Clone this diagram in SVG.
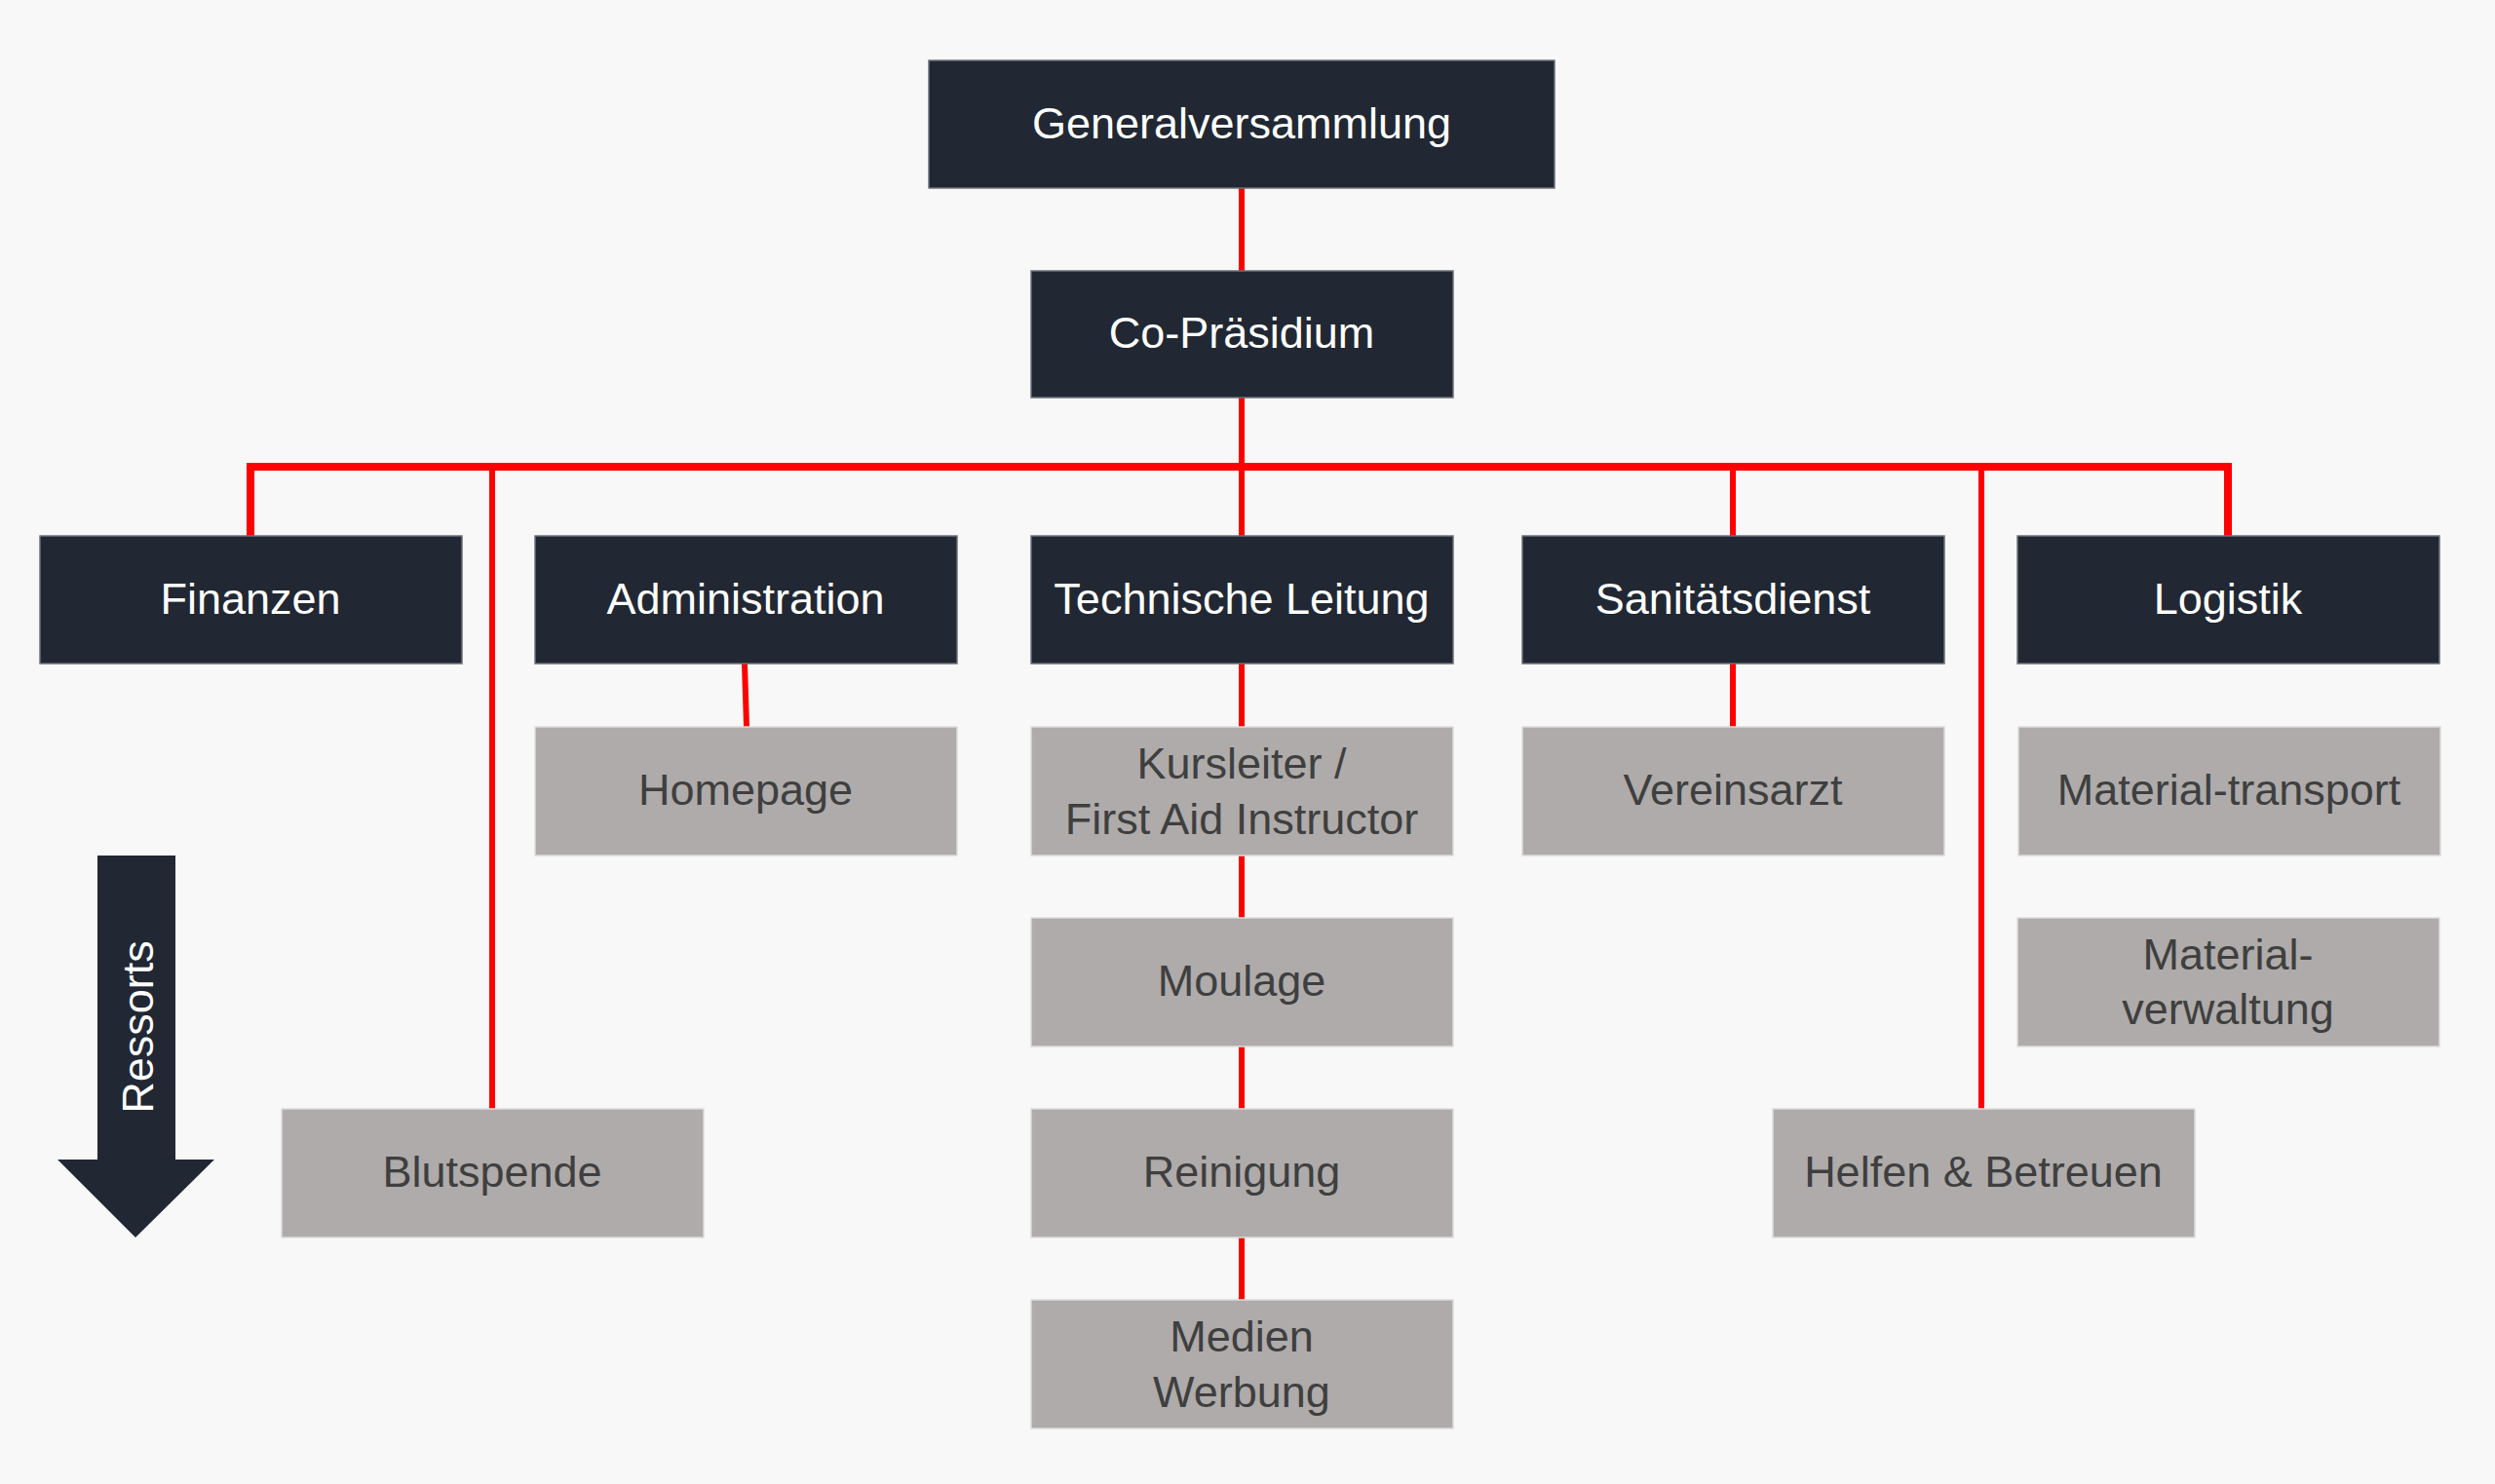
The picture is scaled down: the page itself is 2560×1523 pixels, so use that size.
<svg xmlns="http://www.w3.org/2000/svg" width="2560" height="1523" viewBox="0 0 2560 1523">
<style>
.bg{fill:#f8f8f8}
.dark{fill:#212833;stroke:#6b7079;stroke-width:1.5}
.grey{fill:#aeabaa;stroke:#dcdcdc;stroke-width:1.5}
.tw{font-family:"Liberation Sans",Arial,sans-serif;font-size:45px;fill:#ffffff;text-anchor:middle}
.tg{font-family:"Liberation Sans",Arial,sans-serif;font-size:45px;fill:#3f3f3f;text-anchor:middle}
.link{stroke:#ff0000;stroke-width:6;fill:none}
.bus{stroke:#ff0000;stroke-width:8;fill:none}
</style>
<rect class="bg" x="0" y="0" width="2560" height="1523"/>
<g id="connectors">
<line class="link" x1="1274" y1="193" x2="1274" y2="278"/>
<line class="link" x1="1274" y1="408" x2="1274" y2="479"/>
<path class="bus" d="M257 550 V479 H2286 V550"/>
<line class="link" x1="505" y1="479" x2="505" y2="1138"/>
<line class="link" x1="1274" y1="479" x2="1274" y2="550"/>
<line class="link" x1="1778" y1="479" x2="1778" y2="550"/>
<line class="link" x1="2033" y1="479" x2="2033" y2="1138"/>
<line class="link" x1="764" y1="681" x2="766" y2="746"/>
<line class="link" x1="1274" y1="681" x2="1274" y2="746"/>
<line class="link" x1="1274" y1="878" x2="1274" y2="942"/>
<line class="link" x1="1274" y1="1074" x2="1274" y2="1138"/>
<line class="link" x1="1274" y1="1270" x2="1274" y2="1334"/>
<line class="link" x1="1778" y1="681" x2="1778" y2="746"/>
</g>
<g id="generalversammlung"><rect class="dark" x="953" y="62" width="642" height="131"/><text class="tw" x="1274" y="142">Generalversammlung</text></g>
<g id="co-praesidium"><rect class="dark" x="1058" y="278" width="433" height="130"/><text class="tw" x="1274" y="357">Co-Präsidium</text></g>
<g id="finanzen"><rect class="dark" x="41" y="550" width="433" height="131"/><text class="tw" x="257" y="630">Finanzen</text></g>
<g id="administration"><rect class="dark" x="549" y="550" width="433" height="131"/><text class="tw" x="765" y="630">Administration</text></g>
<g id="technische-leitung"><rect class="dark" x="1058" y="550" width="433" height="131"/><text class="tw" x="1274" y="630">Technische Leitung</text></g>
<g id="sanitaetsdienst"><rect class="dark" x="1562" y="550" width="433" height="131"/><text class="tw" x="1778" y="630">Sanitätsdienst</text></g>
<g id="logistik"><rect class="dark" x="2070" y="550" width="433" height="131"/><text class="tw" x="2286" y="630">Logistik</text></g>
<g id="homepage"><rect class="grey" x="549" y="746" width="433" height="132"/><text class="tg" x="765" y="826">Homepage</text></g>
<g id="kursleiter"><rect class="grey" x="1058" y="746" width="433" height="132"/><text class="tg" x="1274" y="799">Kursleiter /</text><text class="tg" x="1274" y="856">First Aid Instructor</text></g>
<g id="vereinsarzt"><rect class="grey" x="1562" y="746" width="433" height="132"/><text class="tg" x="1778" y="826">Vereinsarzt</text></g>
<g id="material-transport"><rect class="grey" x="2071" y="746" width="433" height="132"/><text class="tg" x="2287" y="826">Material-transport</text></g>
<g id="moulage"><rect class="grey" x="1058" y="942" width="433" height="132"/><text class="tg" x="1274" y="1022">Moulage</text></g>
<g id="material-verwaltung"><rect class="grey" x="2070" y="942" width="433" height="132"/><text class="tg" x="2286" y="995">Material-</text><text class="tg" x="2286" y="1051">verwaltung</text></g>
<g id="blutspende"><rect class="grey" x="289" y="1138" width="433" height="132"/><text class="tg" x="505" y="1218">Blutspende</text></g>
<g id="reinigung"><rect class="grey" x="1058" y="1138" width="433" height="132"/><text class="tg" x="1274" y="1218">Reinigung</text></g>
<g id="helfen-betreuen"><rect class="grey" x="1819" y="1138" width="433" height="132"/><text class="tg" x="2035" y="1218">Helfen &amp; Betreuen</text></g>
<g id="medien-werbung"><rect class="grey" x="1058" y="1334" width="433" height="132"/><text class="tg" x="1274" y="1387">Medien</text><text class="tg" x="1274" y="1444">Werbung</text></g>
<g id="ressorts-arrow"><path d="M100 878 H180 V1190 H220 L139 1270 L59 1190 H100 Z" fill="#212833"/><text class="tw" transform="translate(157,1054) rotate(-90)" x="0" y="0">Ressorts</text></g>
</svg>
